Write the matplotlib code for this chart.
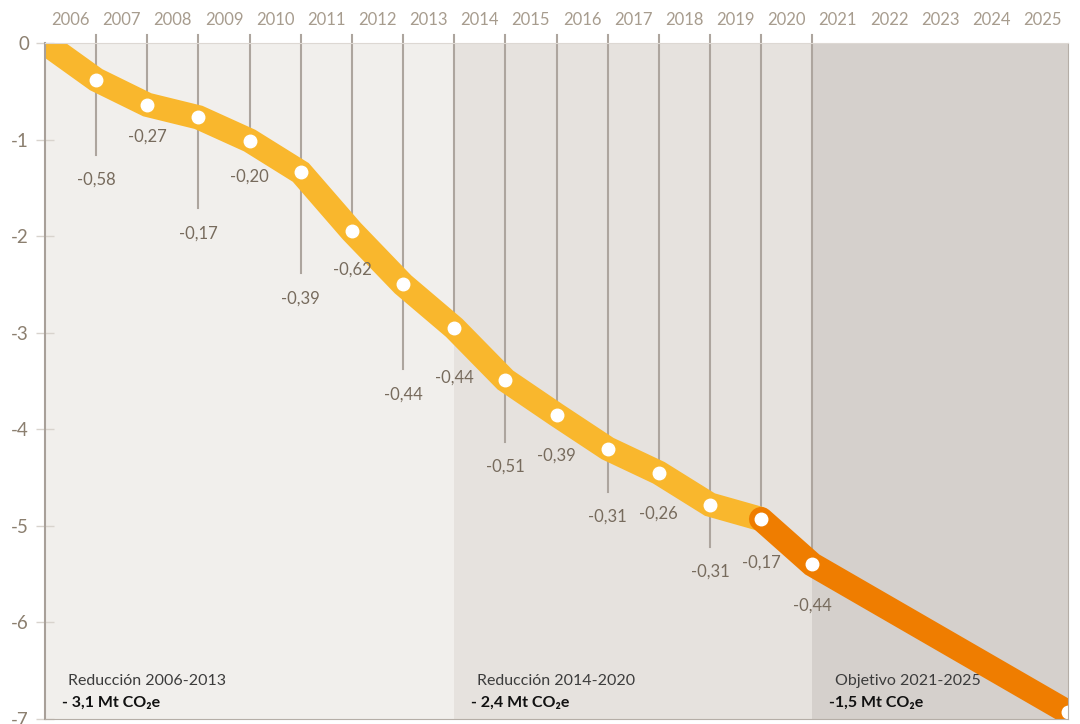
import numpy as np
import matplotlib.pyplot as plt

# datos
years = list(range(2006, 2026))
# nivel acumulado (Mt CO2e) al final de cada año
level_years = [2005, 2006, 2007, 2008, 2009, 2010, 2011, 2012, 2013,
               2014, 2015, 2016, 2017, 2018, 2019, 2020, 2025]
levels = [0.0, -0.38, -0.64, -0.77, -1.01, -1.34, -1.95, -2.50, -2.95,
          -3.49, -3.85, -4.20, -4.45, -4.78, -4.93, -5.40, -6.93]
# reduccion anual (etiquetas)
label_years = list(range(2006, 2021))
reductions = ["-0,58", "-0,27", "-0,17", "-0,20", "-0,39", "-0,62", "-0,44", "-0,44",
              "-0,51", "-0,39", "-0,31", "-0,26", "-0,31", "-0,17", "-0,44"]
periods = [(2005, 2013, "Reducción 2006-2013", "- 3,1 Mt CO\u2082e"),
           (2013, 2020, "Reducción 2014-2020", "- 2,4 Mt CO\u2082e"),
           (2020, 2025, "Objetivo 2021-2025", "-1,5 Mt CO\u2082e")]

# estilo
label_off = [100, 32, 116, 36, 126, 38, 110, 50, 87, 41, 68, 41, 67, 44, 41]  # px debajo del punto
long_line = [True, False, True, False, True, False, True, False,
             True, False, True, False, True, False, False]
bg_colors = ["#F1EFEC", "#E6E2DE", "#D5D0CC"]
yellow = "#F9B72D"
orange = "#EF7D00"
fam = ["Lato", "DejaVu Sans"]

plt.rcParams['font.family'] = fam

fig = plt.figure(figsize=(10.8, 7.24), dpi=100)
ax = fig.add_axes([45/1080, 1 - 719/724, (1068 - 45)/1080, (719 - 43)/724])
ax.set_xlim(2005, 2025)
ax.set_ylim(-7, 0)
px = 7 / ax.bbox.height  # unidades de datos por pixel

for (x0, x1, t1, t2), c in zip(periods, bg_colors):
    ax.axvspan(x0, x1, color=c, zorder=0, lw=0)
    ax.text(x0 + 0.45, -6.61, t1, fontsize=11.5, color="#3C3C3C", va="center", ha="left")
    ax.text(x0 + 0.33, -6.83, t2, fontsize=11.5, color="#111111", fontweight="bold",
            va="center", ha="left")

# lineas verticales
lev = dict(zip(level_years, levels))
for i, yr in enumerate(label_years):
    y_dot = lev[yr]
    y_lab = y_dot - label_off[i] * px
    y_end = y_lab + 25 * px if long_line[i] else y_dot
    ax.plot([yr, yr], [8 * px, y_end], color="#ADA59E", lw=1.5, zorder=1, clip_on=False)
    ax.annotate(reductions[i], (yr, y_dot), xytext=(0, -label_off[i]),
                textcoords="offset pixels", ha="center", va="center",
                fontsize=12, color="#776B5D")

# banda
n_y = level_years.index(2019) + 1
ax.plot(level_years[:n_y], levels[:n_y], color=yellow, lw=17.5, zorder=2,
        solid_joinstyle="miter", solid_capstyle="butt")
ax.plot(level_years[n_y - 1:], levels[n_y - 1:], color=orange, lw=17.5, zorder=3,
        solid_joinstyle="miter", solid_capstyle="round")
ax.plot(level_years[1:-1], levels[1:-1], "o", color="white", ms=9, zorder=4)
ax.plot(level_years[-1:], levels[-1:], "o", color="white", ms=9, zorder=4, clip_on=False)

# ejes
ax.set_xticks([y - 0.5 for y in years])
ax.set_xticklabels([str(y) for y in years])
ax.xaxis.tick_top()
ax.tick_params(axis="x", length=0, pad=11, labelsize=12, labelcolor="#A79C8E")
ax.set_yticks(range(0, -8, -1))
ax.set_yticklabels([str(v) for v in range(0, -8, -1)])
ax.tick_params(axis="y", direction="inout", length=13, width=1, color="#D8D3CD",
               labelsize=13.5, labelcolor="#8B7F6F", pad=5)
ax.spines["left"].set_color("#A8A099")
ax.spines["left"].set_linewidth(1.5)
ax.spines["bottom"].set_color("#B5AEA7")
ax.spines["right"].set_color("#B5AEA7")
ax.spines["top"].set_color("#DDD8D3")
for s in ax.spines.values():
    s.set_zorder(5)

fig.savefig("out.png", dpi=100)
